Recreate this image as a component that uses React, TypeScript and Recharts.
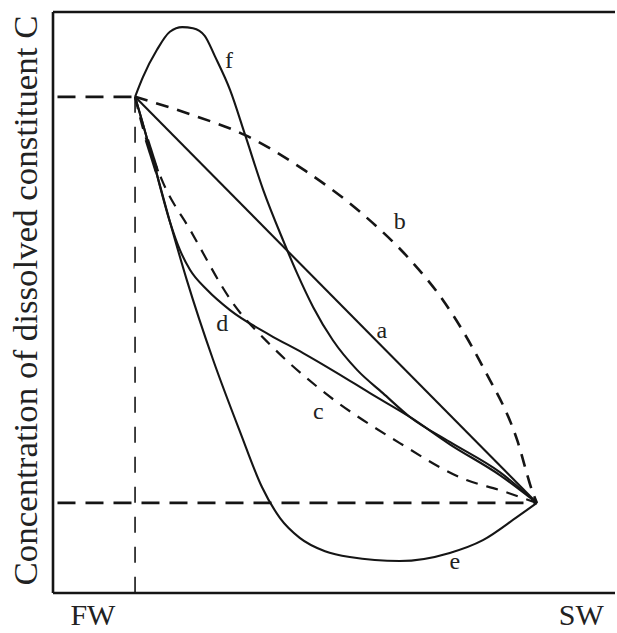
import React from 'react'
import {
	LineChart,
	Line,
	XAxis,
	YAxis,
	ReferenceLine,
	ReferenceDot,
} from 'recharts'

// end members (x: mixing axis, y: concentration, 0-100 scale)
const fw = [14.6, 85.4]
const sw = [86.1, 15.5]

const curveA = [fw, sw]
const curveB = [fw, [24.4, 82.4], [34.2, 78.8], [45.0, 72.6], [55.0, 65.3], [63.5, 57.4], [69.4, 50.4], [76.5, 38.9], [82.6, 26.3], [85.4, 17.2], sw]
const curveC = [fw, [15.5, 81.8], [19.6, 70.6], [24.4, 62.5], [32.0, 49.9], [39.1, 42.3], [47.0, 35.5], [61.7, 25.8], [73.7, 19.4], [79.5, 17.7], sw]
const curveD = [fw, [15.8, 81.4], [17.8, 74.5], [20.8, 63.9], [22.6, 59.0], [24.4, 55.6], [27.4, 52.2], [31.5, 48.7], [38.6, 44.4], [44.5, 41.3], [50.5, 37.9], [56.4, 34.4], [63.5, 30.3], [70.6, 25.6], [79.5, 20.3], sw]
const curveE = [fw, [15.8, 81.4], [17.8, 74.5], [20.8, 63.9], [23.8, 53.9], [28.5, 40.1], [33.3, 27.7], [37.2, 18.2], [40.4, 12.9], [43.9, 9.5], [48.4, 7.2], [52.8, 6.2], [61.7, 5.5], [70.6, 6.9], [76.5, 9.1], [82.6, 13.1], sw]
const curveF = [fw, [16.0, 88.8], [18.5, 93.5], [20.8, 96.6], [23.0, 97.4], [24.9, 97.2], [27.0, 95.9], [28.8, 92.4], [31.5, 86.6], [34.2, 78.8], [37.4, 69.4], [40.9, 60.8], [43.4, 55.1], [46.3, 49.2], [49.8, 43.5], [54.1, 38.4], [58.7, 34.4], [63.5, 30.3], [70.6, 26.0], [79.5, 20.8], sw]
const arrowMark = [[16.7, 78.0], [18.5, 72.5]]

const curveLabels = [
	{ name: 'f', x: 31.3, y: 91.9 },
	{ name: 'b', x: 61.7, y: 64.2 },
	{ name: 'a', x: 58.5, y: 45.3 },
	{ name: 'd', x: 30.1, y: 46.5 },
	{ name: 'c', x: 47.2, y: 31.5 },
	{ name: 'e', x: 71.5, y: 5.6 },
]

const xTicks = [7.1, 94.0]
const xTickNames = ['FW', 'SW']
const yTitle = 'Concentration of dissolved constituent C'

const ink = '#151515'
const serif = '"Liberation Serif", "Times New Roman", serif'

const pts = (arr) => arr.map(([x, y]) => ({ x, y }))

const YTitle = ({ viewBox }) => {
	const cx = viewBox.x + 37
	const cy = viewBox.y + viewBox.height / 2 - 2
	return (
		<text
			x={cx}
			y={cy}
			transform={`rotate(-90 ${cx} ${cy})`}
			textAnchor='middle'
			fontFamily={serif}
			fontSize={34}
			fill='#222'
			textLength={570}
			lengthAdjust='spacingAndGlyphs'
		>
			{yTitle}
		</text>
	)
}

const App = () => {
	return (
		<div style={{ position: 'absolute', left: 0, top: 0 }}>
			<LineChart
				width={617}
				height={633}
				margin={{ top: 12, right: 2, left: 0, bottom: 0 }}
			>
				<XAxis
					type='number'
					dataKey='x'
					domain={[0, 100]}
					allowDataOverflow
					ticks={xTicks}
					interval={0}
					tickFormatter={(v) => xTickNames[xTicks.indexOf(v)]}
					tickLine={false}
					tickSize={0}
					tickMargin={11}
					height={40}
					axisLine={{ stroke: ink, strokeWidth: 2.6 }}
					tick={{ fontFamily: serif, fontSize: 30, fill: '#222' }}
				/>
				<YAxis
					type='number'
					dataKey='y'
					domain={[0, 100]}
					allowDataOverflow
					width={53}
					tick={false}
					tickLine={false}
					axisLine={{ stroke: ink, strokeWidth: 2.6 }}
					label={(props) => <YTitle {...props} />}
				/>
				<ReferenceLine y={100} stroke={ink} strokeWidth={2.6} />

				<ReferenceLine
					segment={[{ x: 0.8, y: fw[1] }, { x: fw[0], y: fw[1] }]}
					stroke={ink}
					strokeWidth={2.8}
					strokeDasharray='18 10'
				/>
				<ReferenceLine
					segment={[{ x: fw[0], y: fw[1] }, { x: fw[0], y: 0 }]}
					stroke={ink}
					strokeWidth={1.6}
					strokeDasharray='16 14'
				/>
				<ReferenceLine
					segment={[{ x: 0.8, y: sw[1] }, { x: sw[0], y: sw[1] }]}
					stroke={ink}
					strokeWidth={2.8}
					strokeDasharray='18 10'
				/>

				<Line data={pts(curveA)} dataKey='y' type='linear' stroke={ink} strokeWidth={2.1} dot={false} isAnimationActive={false} />
				<Line data={pts(curveB)} dataKey='y' type='monotone' stroke={ink} strokeWidth={2.6} strokeDasharray='13 9' dot={false} isAnimationActive={false} />
				<Line data={pts(curveC)} dataKey='y' type='monotone' stroke={ink} strokeWidth={2.2} strokeDasharray='12 9' dot={false} isAnimationActive={false} />
				<Line data={pts(curveD)} dataKey='y' type='monotone' stroke={ink} strokeWidth={2.1} dot={false} isAnimationActive={false} />
				<Line data={pts(curveE)} dataKey='y' type='monotone' stroke={ink} strokeWidth={2.1} dot={false} isAnimationActive={false} />
				<Line data={pts(curveF)} dataKey='y' type='monotone' stroke={ink} strokeWidth={2.1} dot={false} isAnimationActive={false} />
				<Line data={pts(arrowMark)} dataKey='y' type='linear' stroke={ink} strokeWidth={4.5} dot={false} isAnimationActive={false} />

				{curveLabels.map((l) => (
					<ReferenceDot
						key={l.name}
						x={l.x}
						y={l.y}
						r={0}
						fill='none'
						stroke='none'
						label={{
							value: l.name,
							position: 'center',
							fontFamily: serif,
							fontSize: 24,
							fill: '#222',
						}}
					/>
				))}
			</LineChart>
		</div>
	)
}

export default App
